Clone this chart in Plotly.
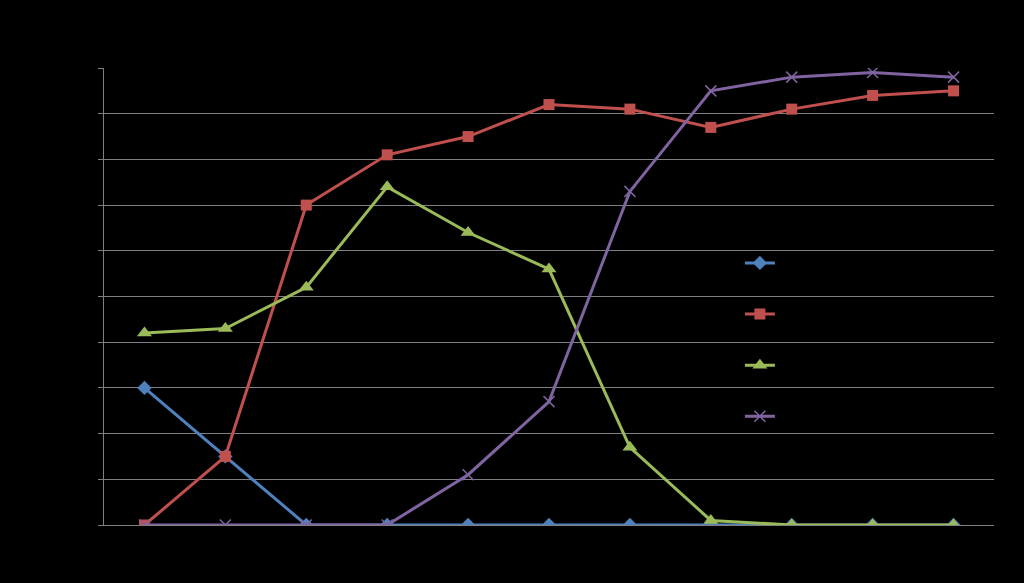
import plotly.graph_objects as go

categories = ["1", "2", "3", "4", "5", "6", "7", "8", "9", "10", "11"]
series1 = [30, 15, 0, 0, 0, 0, 0, 0, 0, 0, 0]
series2 = [0, 15, 70, 81, 85, 92, 91, 87, 91, 94, 95]
series3 = [42, 43, 52, 74, 64, 56, 17, 1, 0, 0, 0]
series4 = [0, 0, 0, 0, 11, 27, 73, 95, 98, 99, 98]
names = ["Series1", "Series2", "Series3", "Series4"]
colors = ["#4F81BD", "#C0504D", "#9BBB59", "#8064A2"]
symbols = ["diamond", "square", "triangle-up", "x-thin"]
sizes = [11, 11, 13, 11]

fig = go.Figure()
for name, vals, col, sym, sz in zip(names, [series1, series2, series3, series4], colors, symbols, sizes):
    fig.add_trace(go.Scatter(
        x=list(range(len(categories))), y=vals, name=name, mode="lines+markers",
        line=dict(color=col, width=3),
        marker=dict(symbol=sym, size=sz, color=col,
                    line=dict(color=col, width=1.5 if sym == "x-thin" else 0)),
    ))

fig.update_layout(
    width=1024, height=583,
    paper_bgcolor="black", plot_bgcolor="black",
    margin=dict(l=104, r=30, t=68, b=58),
    showlegend=True,
    legend=dict(x=0.7145, y=0.405, xanchor="left", yanchor="middle",
                font=dict(color="rgba(0,0,0,0)", size=37, family="Liberation Sans"),
                bgcolor="rgba(0,0,0,0)"),
    font=dict(color="black"),
)
fig.update_xaxes(range=[-0.5, 10.5], showgrid=False, showticklabels=False,
                 showline=True, linecolor="#808080", linewidth=1, zeroline=False,
                 tickmode="array", tickvals=list(range(11)), ticktext=categories)
fig.update_yaxes(range=[0, 100], dtick=10, showgrid=True, gridcolor="#808080", gridwidth=1,
                 showticklabels=False, showline=True, linecolor="#808080", linewidth=1,
                 ticks="outside", ticklen=5, tickcolor="#808080", zeroline=False)

fig.write_html("out.html")
